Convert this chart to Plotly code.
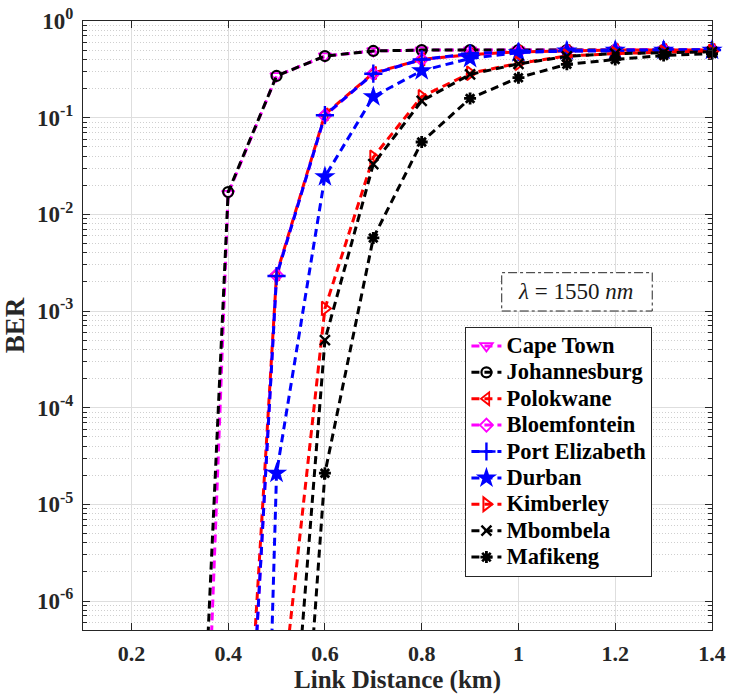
import plotly.graph_objects as go

# Link distance (km) at which the BER was evaluated
distance_km = [0.3, 0.4, 0.5, 0.6, 0.7, 0.8, 0.9, 1.0, 1.1, 1.2, 1.3, 1.4]

# BER per city (None where the curve has not started yet)
ber_cape_town = [8.5e-16, 0.0164, 0.27, 0.434, 0.49, 0.50, 0.50, 0.50, 0.50, 0.50, 0.50, 0.50]
ber_johannesburg = [1.6e-13, 0.0170, 0.27, 0.434, 0.49, 0.50, 0.50, 0.50, 0.50, 0.50, 0.50, 0.50]
ber_polokwane = [None, 1.1e-11, 2.4e-3, 0.108, 0.29, 0.40, 0.45, 0.48, 0.49, 0.50, 0.50, 0.50]
ber_bloemfontein = [None, 2.0e-12, 2.35e-3, 0.105, 0.285, 0.40, 0.45, 0.48, 0.49, 0.50, 0.50, 0.50]
ber_port_elizabeth = [None, 2.0e-12, 2.3e-3, 0.106, 0.285, 0.40, 0.46, 0.48, 0.49, 0.49, 0.50, 0.50]
ber_durban = [None, 8.0e-23, 2.1e-5, 0.0245, 0.165, 0.306, 0.41, 0.47, 0.49, 0.50, 0.50, 0.50]
ber_kimberley = [None, None, 3.0e-8, 1.06e-3, 0.039, 0.165, 0.288, 0.365, 0.434, 0.46, 0.475, 0.485]
ber_mbombela = [None, None, 2.1e-10, 5.0e-4, 0.033, 0.149, 0.28, 0.36, 0.43, 0.46, 0.47, 0.48]
ber_mafikeng = [None, None, 1.9e-12, 2.1e-5, 5.7e-3, 0.056, 0.158, 0.259, 0.356, 0.40, 0.44, 0.46]

x_tick_vals = [0.2, 0.4, 0.6, 0.8, 1.0, 1.2, 1.4]
x_tick_text = ["0.2", "0.4", "0.6", "0.8", "1", "1.2", "1.4"]
y_exponents = [-6, -5, -4, -3, -2, -1, 0]

MAGENTA = "#FF00FF"
BLACK = "#000000"
RED = "#FF0000"
BLUE = "#0000FF"
AXIS = "#262626"
SERIF = "Liberation Serif, Times New Roman, serif"

series = [
    ("Cape Town", ber_cape_town, MAGENTA, "triangle-down-open", 11, 1.8),
    ("Johannesburg", ber_johannesburg, BLACK, "circle-open", 10, 2.2),
    ("Polokwane", ber_polokwane, RED, "triangle-left-open", 11, 1.8),
    ("Bloemfontein", ber_bloemfontein, MAGENTA, "diamond-open", 10, 1.8),
    ("Port Elizabeth", ber_port_elizabeth, BLUE, "cross-thin-open", 13, 2.4),
    ("Durban", ber_durban, BLUE, "star", 16, 0),
    ("Kimberley", ber_kimberley, RED, "triangle-right-open", 12, 2.0),
    ("Mbombela", ber_mbombela, BLACK, "x-thin-open", 10, 2.4),
    ("Mafikeng", ber_mafikeng, BLACK, "asterisk-open", 10, 2.8),
]

LEGEND_SPAN = ("<b><span style='font-family:Liberation Serif,Times New Roman,serif;"
               "font-size:22.5px'>%s</span></b>")

fig = go.Figure()
for name, ber, color, symbol, size, mlw in series:
    fig.add_trace(go.Scatter(
        x=distance_km,
        y=ber,
        name=LEGEND_SPAN % name,
        mode="lines+markers",
        line=dict(color=color, width=3, dash="8px,5px"),
        marker=dict(symbol=symbol, size=size, color=color,
                    line=dict(color=color, width=mlw)),
        connectgaps=False,
        cliponaxis=False,
    ))

minor_y = [m * 10.0 ** e for e in range(-7, 0) for m in range(2, 10)]

fig.update_xaxes(
    range=[0.1, 1.4],
    automargin=False,
    tickmode="array",
    tickvals=x_tick_vals,
    ticktext=["<b>%s</b>" % t for t in x_tick_text],
    ticks="inside",
    ticklen=7,
    tickcolor=AXIS,
    showline=True,
    linecolor=AXIS,
    linewidth=1,
    mirror="ticks",
    showgrid=True,
    gridcolor="#dedede",
    gridwidth=1,
    zeroline=False,
    tickfont=dict(family=SERIF, size=22, color=AXIS),
    ticklabelstandoff=4,
    title=dict(text="<b>Link Distance (km)</b>", standoff=5,
               font=dict(family=SERIF, size=25, color=AXIS)),
)

fig.update_yaxes(
    type="log",
    range=[-6.3, 0],
    automargin=False,
    tickmode="array",
    tickvals=[10.0 ** e for e in y_exponents],
    ticktext=["<b>10<sup>%d</sup></b>" % e for e in y_exponents],
    ticks="inside",
    ticklen=7,
    tickcolor=AXIS,
    showline=True,
    linecolor=AXIS,
    linewidth=1,
    mirror="ticks",
    showgrid=True,
    gridcolor="#dedede",
    gridwidth=1,
    zeroline=False,
    minor=dict(
        tickmode="array",
        tickvals=minor_y,
        ticks="inside",
        ticklen=4,
        tickcolor=AXIS,
        showgrid=True,
        gridcolor="#cfcfcf",
        griddash="1px,2px",
        gridwidth=1,
    ),
    tickfont=dict(family=SERIF, size=23, color=AXIS),
    ticklabelstandoff=4,
    title=dict(text="<b>BER</b>", standoff=4,
               font=dict(family=SERIF, size=27, color=AXIS)),
)

# Wavelength label in a dash-dot box
fig.add_shape(
    type="rect", xref="paper", yref="paper",
    x0=0.6657, x1=0.905, y0=0.5238, y1=0.5867,
    line=dict(color=AXIS, width=1, dash="dashdot"),
    fillcolor="white", layer="above",
)
fig.add_annotation(
    xref="paper", yref="paper", x=0.783, y=0.5553,
    text="<i>λ</i> = 1550 <i>nm</i>", showarrow=False,
    font=dict(family=SERIF, size=23, color="#1a1a1a"),
    xanchor="center", yanchor="middle",
)

fig.update_layout(
    width=729,
    height=698,
    margin=dict(l=83, r=17, t=21, b=68),
    paper_bgcolor="white",
    plot_bgcolor="white",
    showlegend=True,
    legend=dict(
        x=0.608, y=0.498, xanchor="left", yanchor="top",
        bgcolor="white",
        bordercolor=AXIS,
        borderwidth=1,
        font=dict(family=SERIF, size=18, color=BLACK),
        itemwidth=30,
        tracegroupgap=0,
    ),
)

fig.write_html("out.html")
